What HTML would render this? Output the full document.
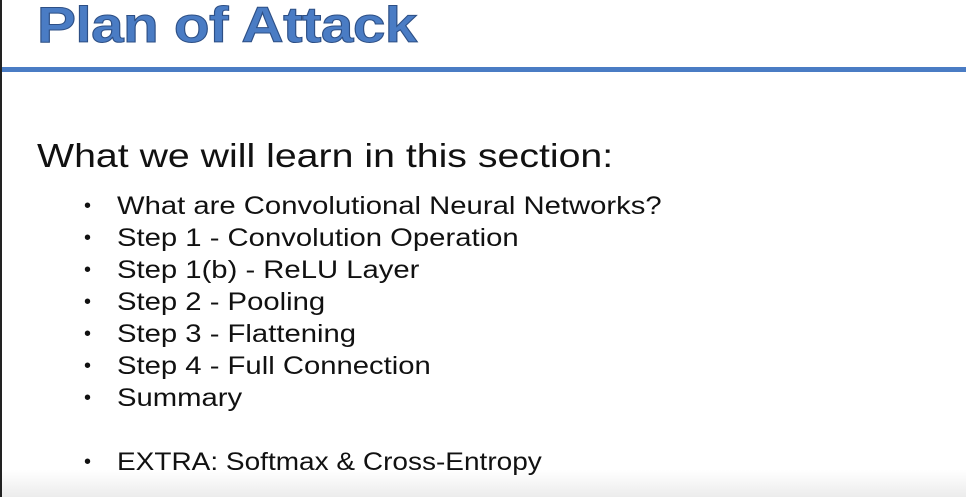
<!DOCTYPE html>
<html><head><style>
html,body{margin:0;padding:0}
body{width:966px;height:497px;position:relative;overflow:hidden;background:#fff;font-family:"Liberation Sans",sans-serif;}
.lb{position:absolute;left:0;top:0;width:2px;height:497px;background:#222}
.t{position:absolute;left:37px;top:-4px;font-size:50px;font-weight:bold;color:#4a7cc4;-webkit-text-stroke:1px #2d4f85;letter-spacing:-0.5px;white-space:nowrap;transform:scaleX(1.17);transform-origin:0 0}
.hr{position:absolute;left:2px;top:67px;width:964px;height:5px;background:#4a7cc4}
.h{position:absolute;left:37px;top:137px;font-size:33px;color:#111;white-space:nowrap;transform:scaleX(1.19);transform-origin:0 0}
.li{position:absolute;left:117px;font-size:25px;color:#111;white-space:nowrap;transform:scaleX(1.17);transform-origin:0 0}
.b{position:absolute;left:84px;font-size:20px;color:#111}
.bot{position:absolute;left:0;top:470px;width:966px;height:27px;background:linear-gradient(#fff,#ececec)}
</style></head><body>
<div class="bot"></div>
<div class="lb"></div>
<div class="t">Plan of Attack</div>
<div class="hr"></div>
<div class="h">What we will learn in this section:</div>
<div class="b" style="top:195px">•</div><div class="li" style="top:192px">What are Convolutional Neural Networks?</div>
<div class="b" style="top:227px">•</div><div class="li" style="top:224px">Step 1 - Convolution Operation</div>
<div class="b" style="top:259px">•</div><div class="li" style="top:256px">Step 1(b) - ReLU Layer</div>
<div class="b" style="top:291px">•</div><div class="li" style="top:288px">Step 2 - Pooling</div>
<div class="b" style="top:323px">•</div><div class="li" style="top:320px">Step 3 - Flattening</div>
<div class="b" style="top:355px">•</div><div class="li" style="top:352px">Step 4 - Full Connection</div>
<div class="b" style="top:387px">•</div><div class="li" style="top:384px">Summary</div>
<div class="b" style="top:451px">•</div><div class="li" style="top:448px;transform:scaleX(1.12)">EXTRA: Softmax &amp; Cross-Entropy</div>
</body></html>
